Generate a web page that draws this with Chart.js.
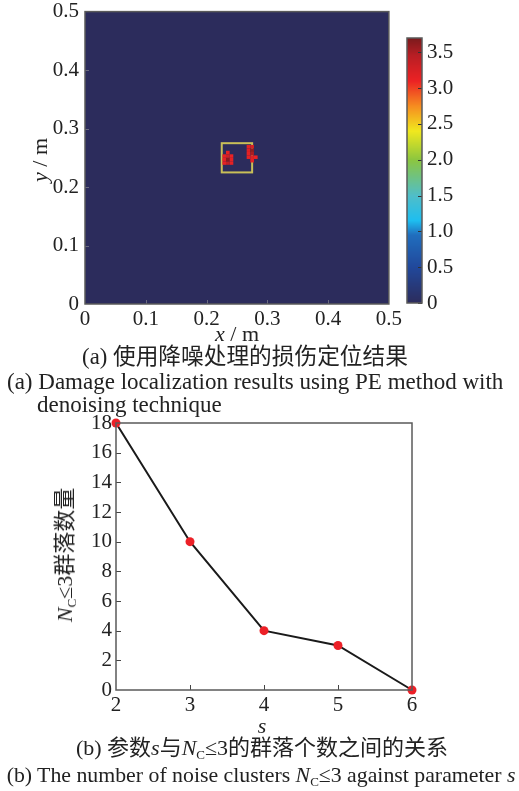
<!DOCTYPE html>
<html><head><meta charset="utf-8">
<script src="https://cdn.jsdelivr.net/npm/chart.js@4/dist/chart.umd.min.js"></script>
<style>
html,body{margin:0;padding:0;background:#fff}
body{width:519px;height:791px;position:relative;overflow:hidden;font-family:"Liberation Serif","Noto Sans CJK SC",serif;color:#222}
canvas{position:absolute}
.t{position:absolute;white-space:nowrap;font-size:21px;line-height:1}
.c{transform:translate(-50%,-50%)}
.l{transform:translate(0,-50%)}
.r{transform:translate(-50%,-50%) rotate(-90deg)}
sub{font-size:13px;vertical-align:-4px;font-style:normal}
</style></head>
<body>
<div style="position:absolute;left:0;top:-7px;width:405px;height:352px"><canvas id="c1"></canvas></div>
<div style="position:absolute;left:395px;top:0;width:124px;height:345px"><canvas id="c2"></canvas></div>
<div style="position:absolute;left:0;top:405px;width:519px;height:320px"><canvas id="c3"></canvas></div>

<div class="t c" style="left:237px;top:334px;font-size:22px"><i>x</i> / m</div>
<div class="t r" style="left:40px;top:160px;font-size:22px"><i>y</i> / m</div>
<div class="t c" style="left:245px;top:357px;font-size:22.7px">(a) 使用降噪处理的损伤定位结果</div>
<div class="t l" style="left:7px;top:381px;font-size:23px">(a) Damage localization results using PE method with</div>
<div class="t l" style="left:37px;top:404px;font-size:23px">denoising technique</div>
<div class="t r" style="left:66px;top:555px;font-size:22px"><i>N</i><sub>C</sub>≤3群落数量</div>
<div class="t c" style="left:262px;top:726px;font-size:22px"><i>s</i></div>
<div class="t c" style="left:262px;top:749px;font-size:22px">(b) 参数<i>s</i>与<i>N</i><sub>C</sub>≤3的群落个数之间的关系</div>
<div class="t c" style="left:261px;top:776px;font-size:21.8px">(b) The number of noise clusters <i>N</i><sub>C</sub>≤3 against parameter <i>s</i></div>

<script>
// ---------- data: (a) damage map ----------
const mapTicks = [0, 0.1, 0.2, 0.3, 0.4, 0.5];
const colorbarTicks = [0, 0.5, 1.0, 1.5, 2.0, 2.5, 3.0, 3.5];
const colorMax = 3.7;
const cellSize = 0.006;
// non-zero damage-index cells (centres, m) and values
const cellX = [0.229,0.235,0.241, 0.229,0.235,0.241, 0.229,0.235,0.241, 0.235,
               0.269,0.275, 0.269,0.275, 0.269,0.275, 0.269,0.275, 0.275, 0.281];
const cellY = [0.241,0.241,0.241, 0.247,0.247,0.247, 0.253,0.253,0.253, 0.259,
               0.269,0.269, 0.263,0.263, 0.257,0.257, 0.251,0.251, 0.245, 0.251];
const cellV = [3.15,3.40,3.15, 3.15,3.65,3.15, 3.15,3.30,3.10, 3.15,
               3.15,3.25, 3.20,3.60, 3.15,3.50, 3.15,3.20, 3.15, 3.10];
// expected damage region box
const boxX = [0.225, 0.275];
const boxY = [0.225, 0.275];

// ---------- data: (b) clusters vs s ----------
const sValues = [2, 3, 4, 5, 6];
const clusterCounts = [18, 10, 4, 3, 0];

// colour map (value stops)
const cmapStops = [
  [0.0,[44,44,92]],[0.5,[33,72,155]],[0.95,[32,110,190]],[1.15,[30,190,240]],
  [1.5,[80,190,200]],[2.0,[140,198,63]],[2.4,[240,232,30]],[2.75,[246,140,32]],
  [3.1,[236,34,36]],[3.45,[185,30,36]],[3.7,[122,26,28]]
];
function cmap(v){
  if(v<=cmapStops[0][0]) return 'rgb('+cmapStops[0][1].join(',')+')';
  for(let i=1;i<cmapStops.length;i++){
    const [v1,c1]=cmapStops[i];
    if(v<=v1){
      const [v0,c0]=cmapStops[i-1];
      const t=(v-v0)/(v1-v0);
      return 'rgb('+c0.map((c,k)=>Math.round(c+(c1[k]-c)*t)).join(',')+')';
    }
  }
  return 'rgb('+cmapStops[cmapStops.length-1][1].join(',')+')';
}

const FONT = {family:'"Liberation Serif", serif', size:21};
const TICK_COLOR = '#222';
const FRAME = '#5a5a5a';
const NOGRID = {display:false, drawTicks:false};

function frameAndTicks(chart, opts){
  const {ctx, chartArea:a} = chart;
  ctx.save();
  ctx.strokeStyle = opts.tickColor; ctx.lineWidth = 1;
  const xs = chart.scales.x, ys = chart.scales.y;
  ctx.beginPath();
  xs.ticks.forEach(t=>{ const p=Math.round(xs.getPixelForValue(t.value))+0.5;
    if(p>a.left+1 && p<a.right-1){ ctx.moveTo(p,a.bottom); ctx.lineTo(p,a.bottom-opts.len); }});
  ys.ticks.forEach(t=>{ const p=Math.round(ys.getPixelForValue(t.value))+0.5;
    if(p>a.top+1 && p<a.bottom-1){ ctx.moveTo(a.left,p); ctx.lineTo(a.left+opts.len,p); }});
  ctx.stroke();
  ctx.strokeStyle = FRAME; ctx.lineWidth = 1.5;
  ctx.strokeRect(a.left, a.top, a.right-a.left, a.bottom-a.top);
  ctx.restore();
}

// ---------- chart (a): heat map ----------
const heatPlugin = {
  id:'heat',
  beforeDatasetsDraw(chart){
    const {ctx, chartArea:a, scales:{x,y}} = chart;
    ctx.save();
    ctx.fillStyle = cmap(0);
    ctx.fillRect(a.left, a.top, a.right-a.left, a.bottom-a.top);
    // box
    ctx.strokeStyle = '#c9bf58'; ctx.lineWidth = 2;
    const bx0=x.getPixelForValue(boxX[0]), bx1=x.getPixelForValue(boxX[1]);
    const by0=y.getPixelForValue(boxY[0]), by1=y.getPixelForValue(boxY[1]);
    ctx.strokeRect(bx0, by1, bx1-bx0, by0-by1);
    // cells
    for(let i=0;i<cellX.length;i++){
      const x0=x.getPixelForValue(cellX[i]-cellSize/2), x1=x.getPixelForValue(cellX[i]+cellSize/2);
      const y0=y.getPixelForValue(cellY[i]-cellSize/2), y1=y.getPixelForValue(cellY[i]+cellSize/2);
      ctx.fillStyle = cmap(cellV[i]);
      ctx.fillRect(x0, y1, x1-x0, y0-y1);
    }
    ctx.restore();
  },
  afterDraw(chart){ frameAndTicks(chart,{tickColor:'#6a6a80',len:4}); }
};

new Chart(document.getElementById('c1'), {
  type:'scatter',
  data:{datasets:[{data:[]}]},
  plugins:[heatPlugin],
  options:{
    responsive:true, maintainAspectRatio:false, animation:false,
    layout:{padding:{left:0,right:12,top:12,bottom:0}},
    plugins:{legend:{display:false},tooltip:{enabled:false}},
    scales:{
      x:{type:'linear',min:0,max:0.5,afterBuildTicks:s=>{s.ticks=mapTicks.map(v=>({value:v}));},
         afterFit:s=>{s.height=41;},
         grid:NOGRID, border:{display:false},
         ticks:{font:FONT,color:TICK_COLOR,padding:3,maxRotation:0,callback:v=>String(v)}},
      y:{type:'linear',min:0,max:0.5,afterBuildTicks:s=>{s.ticks=mapTicks.map(v=>({value:v}));},
         afterFit:s=>{s.width=85;},
         grid:NOGRID, border:{display:false},
         ticks:{font:FONT,color:TICK_COLOR,padding:6,callback:v=>String(v)}}
    }
  }
});

// ---------- colour bar ----------
const cbPlugin = {
  id:'cb',
  beforeDatasetsDraw(chart){
    const {ctx, chartArea:a, scales:{y}} = chart;
    ctx.save();
    for(let py=Math.floor(a.top); py<a.bottom; py++){
      ctx.fillStyle = cmap(y.getValueForPixel(py+0.5));
      ctx.fillRect(a.left, py, a.right-a.left, 1);
    }
    ctx.strokeStyle='#333'; ctx.lineWidth=1;
    ctx.beginPath();
    y.ticks.forEach(t=>{const p=Math.round(y.getPixelForValue(t.value))+0.5;
      ctx.moveTo(a.right,p); ctx.lineTo(a.right-4,p);});
    ctx.stroke();
    ctx.strokeStyle=FRAME; ctx.lineWidth=1.5;
    ctx.strokeRect(a.left,a.top,a.right-a.left,a.bottom-a.top);
    ctx.restore();
  }
};
new Chart(document.getElementById('c2'), {
  type:'scatter',
  data:{datasets:[{data:[]}]},
  plugins:[cbPlugin],
  options:{
    responsive:true, maintainAspectRatio:false, animation:false,
    layout:{padding:{left:12,right:0,top:38,bottom:42}},
    plugins:{legend:{display:false},tooltip:{enabled:false}},
    scales:{
      x:{display:false,min:0,max:1},
      y:{type:'linear',position:'right',min:0,max:colorMax,
         afterBuildTicks:s=>{s.ticks=colorbarTicks.map(v=>({value:v}));},
         afterFit:s=>{s.width=97;},
         grid:NOGRID, border:{display:false},
         ticks:{font:FONT,color:TICK_COLOR,padding:5,callback:v=>v===0?'0':v.toFixed(1)}}
    }
  }
});

// ---------- chart (b): line ----------
const frame3 = { id:'frame3', afterDraw(chart){ frameAndTicks(chart,{tickColor:'#444',len:5}); } };
new Chart(document.getElementById('c3'), {
  type:'line',
  data:{datasets:[{
    data:sValues.map((s,i)=>({x:s,y:clusterCounts[i]})),
    borderColor:'#1a1a1a', borderWidth:2, tension:0, clip:false,
    pointRadius:4.5, pointHoverRadius:4.5, pointBackgroundColor:'#ec2027', pointBorderWidth:0
  }]},
  plugins:[frame3],
  options:{
    responsive:true, maintainAspectRatio:false, animation:false,
    layout:{padding:{left:0,right:107,top:18,bottom:0}},
    plugins:{legend:{display:false},tooltip:{enabled:false}},
    scales:{
      x:{type:'linear',min:2,max:6,ticks:{stepSize:1,font:FONT,color:TICK_COLOR,padding:3,maxRotation:0},
         afterFit:s=>{s.height=35;}, grid:NOGRID, border:{display:false}},
      y:{type:'linear',min:0,max:18,ticks:{stepSize:2,font:FONT,color:TICK_COLOR,padding:4},
         afterFit:s=>{s.width=116;}, grid:NOGRID, border:{display:false}}
    }
  }
});
</script>
</body></html>
